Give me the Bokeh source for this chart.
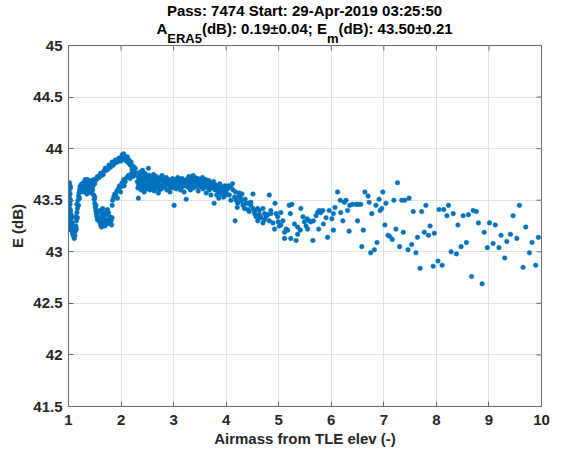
import math
from bokeh.plotting import figure
from bokeh.models import FixedTicker, Range1d, Div
from bokeh.layouts import column
from bokeh.embed import file_html
from bokeh.resources import INLINE

# ---------------- data ----------------
x_ticks = [1, 2, 3, 4, 5, 6, 7, 8, 9, 10]
y_ticks = [41.5, 42, 42.5, 43, 43.5, 44, 44.5, 45]
y_tick_labels = ["41.5", "42", "42.5", "43", "43.5", "44", "44.5", "45"]

title_line1 = "Pass: 7474 Start: 29-Apr-2019 03:25:50"
title_a = "A"
title_a_sub = "ERA5"
title_mid = "(dB): 0.19\u00b10.04; E"
title_e_sub = "m"
title_end = "(dB): 43.50\u00b10.21"
x_label = "Airmass from TLE elev (-)"
y_label = "E (dB)"

column_pts = [(1.00, 43.62), (1.01, 43.58), (1.00, 43.55), (1.02, 43.52), (1.01, 43.48), (1.00, 43.45),
              (1.02, 43.42), (1.01, 43.38), (1.00, 43.35), (1.02, 43.32), (1.01, 43.28), (1.03, 43.25),
              (1.02, 43.22), (1.01, 43.60), (1.03, 43.64), (1.02, 43.67), (1.04, 43.62), (1.03, 43.56),
              (1.04, 43.50), (1.03, 43.46), (1.04, 43.40), (1.05, 43.36), (1.04, 43.30), (1.06, 43.27),
              (1.05, 43.22), (1.07, 43.20), (1.08, 43.18), (1.09, 43.16), (1.10, 43.15), (1.11, 43.13),
              (1.12, 43.16), (1.06, 43.33), (1.07, 43.28), (1.08, 43.24), (1.09, 43.21), (1.10, 43.19)]

rise1_pts = [(1.13, 43.20), (1.14, 43.25), (1.15, 43.30), (1.14, 43.34), (1.16, 43.38), (1.17, 43.42),
             (1.16, 43.46), (1.18, 43.50), (1.19, 43.54), (1.20, 43.57), (1.21, 43.60), (1.22, 43.63),
             (1.24, 43.65), (1.26, 43.66), (1.15, 43.22), (1.17, 43.33), (1.19, 43.45), (1.21, 43.52),
             (1.23, 43.58)]

plateau_pts = [(1.28, 43.62), (1.30, 43.68), (1.31, 43.64), (1.33, 43.60), (1.34, 43.66), (1.36, 43.70),
               (1.37, 43.63), (1.39, 43.58), (1.40, 43.65), (1.42, 43.69), (1.43, 43.62), (1.45, 43.66),
               (1.46, 43.60), (1.47, 43.64), (1.29, 43.58), (1.35, 43.56), (1.41, 43.60), (1.44, 43.57),
               (1.32, 43.70), (1.38, 43.67)]

dip_pts = [(1.48, 43.55), (1.49, 43.51), (1.50, 43.47), (1.51, 43.43), (1.52, 43.40), (1.53, 43.37),
           (1.54, 43.34), (1.55, 43.31), (1.50, 43.53), (1.52, 43.45),
           (1.56, 43.38), (1.58, 43.33), (1.59, 43.29), (1.61, 43.26), (1.62, 43.31), (1.64, 43.36),
           (1.63, 43.24), (1.66, 43.28), (1.67, 43.33), (1.69, 43.25), (1.70, 43.30), (1.72, 43.36),
           (1.73, 43.27), (1.75, 43.31), (1.76, 43.38), (1.78, 43.28), (1.79, 43.34), (1.81, 43.30),
           (1.82, 43.26), (1.83, 43.33), (1.60, 43.40), (1.65, 43.42), (1.74, 43.41), (1.68, 43.38)]

rise2_pts = [(1.83, 43.45), (1.84, 43.50), (1.86, 43.53), (1.88, 43.56), (1.90, 43.55), (1.92, 43.59),
             (1.95, 43.61), (1.97, 43.64), (2.00, 43.63), (2.02, 43.67), (2.05, 43.70), (2.08, 43.68),
             (2.11, 43.72), (2.14, 43.74), (2.17, 43.71), (2.20, 43.76), (2.23, 43.73), (2.26, 43.77),
             (1.93, 43.52), (1.99, 43.58), (2.06, 43.64)]

upper_pts = [(1.48, 43.70), (1.55, 43.73), (1.61, 43.76), (1.67, 43.78), (1.70, 43.81), (1.77, 43.84),
             (1.83, 43.87), (1.89, 43.89), (1.96, 43.91), (2.02, 43.94), (2.05, 43.95), (2.12, 43.92),
             (2.15, 43.89), (2.19, 43.87), (2.23, 43.83), (2.27, 43.81),
             (1.50, 43.66), (1.53, 43.70), (1.58, 43.72), (1.63, 43.74), (1.66, 43.75), (1.72, 43.79),
             (1.75, 43.80), (1.80, 43.82), (1.85, 43.84), (1.88, 43.86), (1.93, 43.87), (1.98, 43.90),
             (2.00, 43.88), (2.03, 43.90), (2.08, 43.92), (2.10, 43.88), (2.14, 43.86), (2.18, 43.84),
             (2.21, 43.80), (2.25, 43.78)]

band_x = [2.30, 2.31, 2.32, 2.33, 2.34, 2.35, 2.36, 2.37, 2.38, 2.39, 2.40, 2.41, 2.42, 2.43, 2.44, 2.45,
          2.46, 2.47, 2.48, 2.49, 2.50, 2.52, 2.53, 2.54, 2.55, 2.56, 2.58, 2.59, 2.60, 2.62, 2.63, 2.64,
          2.66, 2.67, 2.68, 2.70, 2.71, 2.72, 2.74, 2.75, 2.77, 2.78, 2.80, 2.81, 2.83, 2.84, 2.86, 2.87,
          2.89, 2.90, 2.92, 2.93, 2.95, 2.96, 2.98, 3.00, 3.01, 3.02, 3.04, 3.05, 3.07, 3.08, 3.10, 3.11,
          3.13, 3.14, 3.16, 3.17, 3.19, 3.20, 3.22, 3.24, 3.25, 3.26, 3.28, 3.29, 3.31, 3.32, 3.34, 3.35,
          3.37, 3.38, 3.40, 3.41, 3.43, 3.44, 3.46, 3.47, 3.49, 3.50, 3.52, 3.53, 3.55, 3.56, 3.58, 3.59,
          3.61, 3.62, 3.64, 3.65, 3.67, 3.68, 3.70, 3.71, 3.73, 3.74, 3.76, 3.77, 3.79, 3.80, 3.82, 3.83,
          3.85, 3.86, 3.88, 3.89, 3.91, 3.92, 3.94, 3.95, 3.97, 3.98]
band_y = [43.74, 43.68, 43.62, 43.52, 43.71, 43.77, 43.65, 43.70, 43.60, 43.74, 43.67, 43.79, 43.63, 43.72,
          43.58, 43.76, 43.69, 43.64, 43.73, 43.61, 43.70, 43.81, 43.66, 43.74, 43.60, 43.69, 43.72, 43.63,
          43.67, 43.75, 43.59, 43.70, 43.65, 43.73, 43.62, 43.68, 43.57, 43.71, 43.64, 43.69, 43.61, 43.74,
          43.66, 43.70, 43.63, 43.68, 43.72, 43.60, 43.66, 43.70, 43.64, 43.58, 43.69, 43.65, 43.71, 43.62,
          43.45, 43.67, 43.70, 43.61, 43.66, 43.72, 43.63, 43.68, 43.60, 43.66, 43.71, 43.64, 43.69, 43.58,
          43.67, 43.51, 43.70, 43.63, 43.68, 43.73, 43.65, 43.60, 43.70, 43.66, 43.74, 43.62, 43.69, 43.72,
          43.64, 43.67, 43.71, 43.59, 43.66, 43.70, 43.63, 43.68, 43.72, 43.61, 43.67, 43.64, 43.70, 43.57,
          43.66, 43.62, 43.69, 43.60, 43.65, 43.55, 43.67, 43.62, 43.68, 43.47, 43.60, 43.65, 43.55, 43.63,
          43.58, 43.52, 43.66, 43.60, 43.56, 43.63, 43.58, 43.53, 43.61, 43.64]

band2_pts = [(2.33, 43.66), (2.37, 43.76), (2.40, 43.61), (2.44, 43.68), (2.47, 43.75), (2.51, 43.64),
             (2.55, 43.71), (2.58, 43.66), (2.61, 43.62), (2.65, 43.70), (2.69, 43.66), (2.73, 43.60),
             (2.76, 43.72), (2.79, 43.63), (2.82, 43.67), (2.85, 43.65), (2.88, 43.69), (2.91, 43.67),
             (2.94, 43.62), (2.97, 43.66), (3.03, 43.64), (3.06, 43.68), (3.09, 43.66), (3.12, 43.70),
             (3.15, 43.62), (3.18, 43.67), (3.21, 43.64), (3.23, 43.69), (3.27, 43.66), (3.30, 43.62),
             (3.33, 43.67), (3.36, 43.71), (3.39, 43.65), (3.42, 43.68), (3.45, 43.63), (3.48, 43.69),
             (3.51, 43.66), (3.54, 43.64), (3.57, 43.70), (3.60, 43.63), (3.63, 43.68), (3.66, 43.65),
             (3.69, 43.63), (3.72, 43.66), (3.75, 43.64), (3.78, 43.62), (3.81, 43.61), (3.84, 43.64),
             (3.87, 43.59), (3.90, 43.62), (3.93, 43.60), (3.96, 43.57), (3.99, 43.55)]

decline_pts = [(4.00, 43.57), (4.03, 43.61), (4.06, 43.55), (4.09, 43.63), (4.13, 43.60), (4.16, 43.53),
               (4.09, 43.50), (4.19, 43.50), (4.22, 43.47), (4.25, 43.57), (4.27, 43.52), (4.21, 43.43),
               (4.17, 43.30), (4.32, 43.45), (4.35, 43.42), (4.38, 43.47), (4.41, 43.41), (4.44, 43.39),
               (4.47, 43.45), (4.51, 43.56), (4.51, 43.42), (4.54, 43.37), (4.57, 43.34), (4.60, 43.30),
               (4.63, 43.36), (4.66, 43.33), (4.70, 43.28), (4.73, 43.31), (4.79, 43.36), (4.82, 43.55),
               (4.85, 43.37), (4.47, 43.48), (4.54, 43.40), (4.60, 43.42), (4.63, 43.40), (4.70, 43.42),
               (4.73, 43.37), (4.57, 43.35), (4.65, 43.34), (4.76, 43.34), (4.85, 43.40), (4.82, 43.30),
               (4.89, 43.28), (4.29, 43.49), (4.12, 43.66), (4.05, 43.64), (4.18, 43.58), (4.24, 43.54),
               (4.30, 43.56), (4.36, 43.51), (4.42, 43.47)]

mid_pts = [(4.93, 43.47), (4.95, 43.37), (4.98, 43.34), (5.04, 43.38), (4.99, 43.29), (5.01, 43.25),
           (4.92, 43.22), (5.08, 43.30), (5.04, 43.26), (5.14, 43.22), (5.11, 43.19), (5.20, 43.45),
           (5.25, 43.46), (5.22, 43.37), (5.17, 43.21), (5.11, 43.13), (5.23, 43.13), (5.33, 43.11),
           (5.30, 43.27), (5.36, 43.24), (5.36, 43.17), (5.41, 43.21), (5.42, 43.42), (5.46, 43.34),
           (5.49, 43.29), (5.52, 43.25), (5.54, 43.32), (5.58, 43.30), (5.55, 43.22), (5.61, 43.29),
           (5.66, 43.30), (5.65, 43.11), (5.71, 43.35), (5.74, 43.38), (5.77, 43.40), (5.80, 43.38),
           (5.84, 43.40), (5.85, 43.27), (5.76, 43.22), (5.90, 43.33), (5.93, 43.14), (5.96, 43.40),
           (6.01, 43.32), (6.04, 43.37), (6.04, 43.21), (6.07, 43.43), (6.12, 43.58), (6.17, 43.50),
           (6.18, 43.38), (6.22, 43.30), (6.25, 43.48), (6.28, 43.50), (6.31, 43.40), (6.34, 43.20),
           (6.35, 43.45), (6.40, 43.46), (6.47, 43.46), (6.50, 43.30), (6.51, 43.46), (6.56, 43.46),
           (6.58, 43.05), (6.61, 43.21), (6.64, 43.58), (6.70, 43.54), (6.72, 43.48), (6.77, 43.37),
           (6.82, 43.02), (6.85, 43.45), (6.87, 43.09), (6.75, 42.99), (6.91, 43.51), (6.93, 43.40)]

tail_pts = [(6.96, 43.42), (6.98, 43.58), (7.02, 43.26), (7.04, 43.47), (7.08, 43.16), (7.11, 43.15),
            (7.16, 43.12), (7.19, 43.50), (7.23, 43.22), (7.26, 43.67), (7.30, 43.05), (7.34, 43.50),
            (7.37, 43.19), (7.40, 43.50), (7.46, 43.02), (7.48, 43.52), (7.53, 43.07), (7.56, 43.39),
            (7.61, 42.99), (7.64, 43.14), (7.69, 42.84), (7.72, 43.39), (7.77, 43.19), (7.80, 43.45),
            (7.85, 43.16), (7.88, 43.25), (7.94, 42.86), (7.96, 43.18), (8.03, 42.91), (8.05, 43.41),
            (8.11, 42.87), (8.14, 43.41), (8.20, 43.35), (8.23, 43.45), (8.28, 43.00), (8.32, 43.37),
            (8.38, 42.98), (8.41, 43.26), (8.47, 43.05), (8.51, 43.35), (8.57, 43.09), (8.61, 43.36),
            (8.67, 42.76), (8.70, 43.40), (8.76, 43.39), (8.80, 43.28), (8.87, 42.69), (8.91, 43.19),
            (8.97, 43.04), (9.01, 43.28), (9.08, 43.08), (9.12, 43.26), (9.19, 43.04), (9.23, 43.16),
            (9.30, 42.94), (9.34, 43.10), (9.41, 43.17), (9.46, 43.35), (9.53, 43.13), (9.58, 43.45),
            (9.65, 42.85), (9.70, 43.24), (9.77, 42.99), (9.82, 43.09), (9.89, 42.87), (9.94, 43.14)]

# ---------------- assemble ----------------
pairs = (column_pts + rise1_pts + plateau_pts + dip_pts + rise2_pts + upper_pts
         + list(zip(band_x, band_y)) + band2_pts + decline_pts + mid_pts + tail_pts)
airmass = [a for a, _ in pairs]
e_db = [e for _, e in pairs]

FONT = "Liberation Sans"
AX_COLOR = "#6b6b6b"
TXT = "#262626"

# ---------------- title (HTML, to allow subscripts) ----------------
sub = 'font-size:13px;position:relative;top:9px;'
title_html = (
    '<div style="font-family:\'Liberation Sans\',Arial,sans-serif;font-weight:bold;'
    'font-size:15px;color:#000;text-align:center;white-space:nowrap;width:473px;overflow:visible;">'
    f'<div style="height:20px;line-height:20px;padding-top:1px;">{title_line1}</div>'
    f'<div style="height:18px;line-height:18px;">{title_a}<span style="{sub}">{title_a_sub}</span>'
    f'{title_mid}<span style="{sub}">{title_e_sub}</span>{title_end}</div>'
    '</div>'
)
title_div = Div(text=title_html, width=473, height=30, margin=(0, 0, 0, 68),
                styles={"overflow": "visible", "z-index": "2"})

# ---------------- figure ----------------
p = figure(width=563, height=421, x_range=Range1d(1, 10), y_range=Range1d(41.5, 45),
           output_backend="svg", toolbar_location=None,
           min_border_left=68, min_border_right=22, min_border_top=15, min_border_bottom=45)
p.background_fill_color = "white"
p.border_fill_color = "white"
p.border_fill_alpha = 0.0
p.outline_line_color = AX_COLOR
p.outline_line_width = 1

p.xaxis.ticker = FixedTicker(ticks=x_ticks)
p.yaxis.ticker = FixedTicker(ticks=y_ticks)
p.yaxis.major_label_overrides = {t: s for t, s in zip(y_ticks, y_tick_labels)}
for ax in (p.xaxis[0], p.yaxis[0]):
    ax.axis_line_color = AX_COLOR
    ax.major_tick_line_color = AX_COLOR
    ax.major_tick_in = 5
    ax.major_tick_out = 0
    ax.minor_tick_in = 0
    ax.minor_tick_out = 0
    ax.major_label_text_font = FONT
    ax.major_label_text_font_style = "bold"
    ax.major_label_text_font_size = "15px"
    ax.major_label_text_color = TXT
    ax.axis_label_text_font = FONT
    ax.axis_label_text_font_style = "bold"
    ax.axis_label_text_font_size = "15px"
    ax.axis_label_text_color = TXT
p.xaxis.major_label_standoff = 8
p.yaxis.major_label_standoff = 6
p.xaxis.axis_label = x_label
p.xaxis.axis_label_standoff = 2
p.yaxis.axis_label = y_label
p.yaxis.axis_label_standoff = 4

p.xgrid.ticker = FixedTicker(ticks=x_ticks)
p.ygrid.ticker = FixedTicker(ticks=y_ticks)
p.grid.grid_line_color = "#e2e2e2"
p.grid.grid_line_width = 1

# inward ticks on the right and top sides of the box
p.ray(x=[x_ticks[-1]] * len(y_ticks), y=y_ticks, length=5, length_units="screen",
      angle=math.pi, line_color=AX_COLOR, line_width=1)
p.ray(x=x_ticks, y=[y_ticks[-1]] * len(x_ticks), length=5, length_units="screen",
      angle=-math.pi / 2, line_color=AX_COLOR, line_width=1)

p.scatter(airmass, e_db, size=4.6, marker="circle", fill_color="#0072BD",
          line_color="#0072BD", line_width=0.5)

layout = column(title_div, p, spacing=0)

open("out.html", "w", encoding="utf-8").write(file_html(layout, INLINE))
